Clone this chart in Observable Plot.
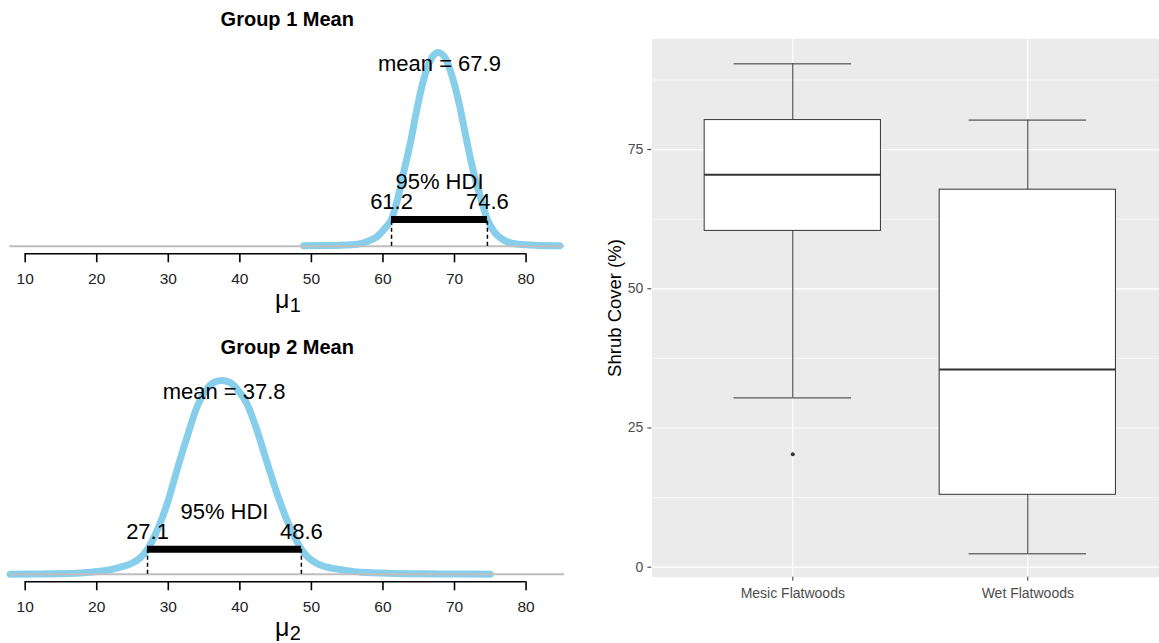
<!DOCTYPE html>
<html>
<head>
<meta charset="utf-8">
<script src="https://cdn.jsdelivr.net/npm/d3@7"></script>
<script src="https://cdn.jsdelivr.net/npm/@observablehq/plot@0.6"></script>
<style>
  html, body { margin: 0; padding: 0; background: #fff; overflow: hidden; }
  #wrap { position: relative; width: 1159px; height: 643px; overflow: hidden; background: #fff; }
  #wrap svg { position: absolute; overflow: visible; max-width: none; }
</style>
</head>
<body>
<div id="wrap"></div>
<script>
// ---- Posterior of the Group 1 mean (relative density, peak = 1) ----
const group1Mu = [48.9, 52.0, 54.1, 56.4, 57.8, 59.2, 60.4, 61.2, 62.0, 62.9, 63.9, 64.8, 65.7, 66.7, 67.7,
                  68.8, 69.7, 70.7, 71.6, 72.5, 73.5, 74.6, 75.6, 77.0, 78.9, 81.7, 84.7];
const group1Density = [0.002, 0.003, 0.005, 0.010, 0.024, 0.050, 0.098, 0.138, 0.236, 0.382, 0.546, 0.718, 0.862, 0.965, 1.000,
                       0.965, 0.872, 0.728, 0.563, 0.408, 0.268, 0.138, 0.072, 0.029, 0.010, 0.004, 0.002];
const group1Mean = 67.9;
const group1Hdi = [61.2, 74.6];

// ---- Posterior of the Group 2 mean (relative density, peak = 1) ----
const group2Mu = [7.9, 11.0, 14.0, 16.0, 18.2, 20.5, 21.9, 23.3, 24.7, 26.0, 27.1, 28.45, 29.85, 31.2, 32.6, 34.0, 35.4,
                  36.5, 37.5, 38.6, 39.6, 41.0, 42.4, 43.8, 45.2, 46.6, 47.6, 48.6, 49.7, 50.8, 52.2, 54.5, 56.9,
                  61.5, 66.0, 70.0, 75.0];
const group2Density = [0.000, 0.001, 0.002, 0.004, 0.008, 0.015, 0.023, 0.036, 0.053, 0.082, 0.129, 0.227, 0.364, 0.536, 0.706, 0.862, 0.957,
                       0.992, 1.000, 0.990, 0.957, 0.880, 0.742, 0.577, 0.416, 0.278, 0.196, 0.129, 0.082, 0.055, 0.036, 0.021, 0.010,
                       0.004, 0.002, 0.001, 0.000];
const group2Mean = 37.8;
const group2Hdi = [27.1, 48.6];

const muTicks = [10, 20, 30, 40, 50, 60, 70, 80];

// ---- Shrub cover by site type (box plot summary) ----
const sites = ["Mesic Flatwoods", "Wet Flatwoods"];
const lowerWhisker = [30.4, 2.4];
const lowerQuartile = [60.4, 13.0];
const medianCover = [70.5, 35.5];
const upperQuartile = [80.3, 67.8];
const upperWhisker = [90.4, 80.3];
const outlierSite = ["Mesic Flatwoods"];
const outlierCover = [20.3];
const coverTicks = [0, 25, 50, 75];
const coverMinorTicks = [12.5, 37.5, 62.5, 87.5];

const wrap = document.getElementById("wrap");
const baseFont = "'Liberation Sans', Arial, sans-serif";

function posteriorPanel(mu, density, mean, hdi, title, subscript, top) {
  const pts = mu.map((m, i) => ({mu: m, density: density[i]}));
  const hdiHeight = density[mu.indexOf(hdi[0])];
  const svg = Plot.plot({
    width: 580,
    height: 328,
    marginLeft: 9.3,
    marginRight: 15.8,
    marginTop: 52,
    marginBottom: 74.7,
    x: {domain: [7.85, 85.4]},
    y: {domain: [0, 1], insetBottom: 7.6, axis: null},
    style: {fontFamily: baseFont, fontSize: "15px", color: "#000", background: "transparent", overflow: "visible"},
    marks: [
      Plot.line(pts, {x: "mu", y: "density", stroke: "#87CEEB", strokeWidth: 7, curve: "monotone-x",
                      strokeLinecap: "round", strokeLinejoin: "round"}),
      Plot.ruleY([0], {stroke: "#BEBEBE", strokeWidth: 2}),
      Plot.ruleX(hdi, {x: d => d, y1: 0, y2: hdiHeight, stroke: "#000", strokeWidth: 1.5, strokeDasharray: "4,3"}),
      Plot.ruleY([hdiHeight], {x1: hdi[0], x2: hdi[1], stroke: "#000", strokeWidth: 7, strokeLinecap: "butt"}),
      Plot.text([mean], {x: d => d, y: 0.905, text: d => `mean = ${d.toFixed(1)}`, lineAnchor: "bottom", fontSize: 22, fill: "#000"}),
      Plot.text([d3.mean(hdi)], {x: d => d, y: hdiHeight, dy: -30, text: () => "95% HDI", lineAnchor: "bottom", fontSize: 22, fill: "#000"}),
      Plot.text(hdi, {x: d => d, y: hdiHeight, dy: -10, text: d => d.toFixed(1), lineAnchor: "bottom", fontSize: 22, fill: "#000"}),
      Plot.axisX({ticks: muTicks, tickSize: 9, tickPadding: 10, strokeWidth: 1.6, stroke: "#000", fill: "#222", fontSize: 15.5, label: null}),
      Plot.ruleY([0], {x1: muTicks[0], x2: muTicks[muTicks.length - 1], dy: 7.6, stroke: "#000", strokeWidth: 1.6}),
      Plot.text([title], {frameAnchor: "top", dy: -26.3, lineAnchor: "bottom", fontWeight: "bold", fontSize: 20, fill: "#000"}),
      Plot.text(["μ"], {frameAnchor: "bottom", dx: -5, dy: 54, lineAnchor: "bottom", fontSize: 25, fill: "#000"}),
      Plot.text([subscript], {frameAnchor: "bottom", dx: 8, dy: 58, lineAnchor: "bottom", fontSize: 20, fill: "#000"})
    ]
  });
  svg.style.left = "0px";
  svg.style.top = top + "px";
  wrap.appendChild(svg);
}

posteriorPanel(group1Mu, group1Density, group1Mean, group1Hdi, "Group 1 Mean", "1", 0);
posteriorPanel(group2Mu, group2Density, group2Mean, group2Hdi, "Group 2 Mean", "2", 328);

// ---- Box plot panel ----
const boxes = sites.map((s, i) => ({
  pos: i + 1, site: s,
  lo: lowerWhisker[i], q1: lowerQuartile[i], med: medianCover[i], q3: upperQuartile[i], hi: upperWhisker[i]
}));
const outliers = outlierSite.map((s, i) => ({pos: sites.indexOf(s) + 1, value: outlierCover[i]}));
const boxHalf = 0.375, capHalf = 0.25;

const box = Plot.plot({
  width: 580,
  height: 643,
  marginLeft: 61.3,
  marginRight: 1.7,
  marginTop: 38.3,
  marginBottom: 66.3,
  x: {domain: [0.4, 2.6]},
  y: {domain: [-1.8, 94.9]},
  style: {fontFamily: baseFont, fontSize: "14px", color: "#000", background: "transparent", overflow: "visible"},
  marks: [
    Plot.frame({fill: "#EBEBEB", stroke: null}),
    Plot.gridY({ticks: coverMinorTicks, stroke: "#fff", strokeOpacity: 1, strokeWidth: 0.6}),
    Plot.gridY({ticks: coverTicks, stroke: "#fff", strokeOpacity: 1, strokeWidth: 1.2}),
    Plot.gridX({ticks: boxes.map(d => d.pos), stroke: "#fff", strokeOpacity: 1, strokeWidth: 1.2}),
    Plot.ruleX(boxes, {x: "pos", y1: "lo", y2: "hi", stroke: "#333", strokeWidth: 1}),
    Plot.ruleY(boxes, {y: "hi", x1: d => d.pos - capHalf, x2: d => d.pos + capHalf, stroke: "#333", strokeWidth: 1}),
    Plot.ruleY(boxes, {y: "lo", x1: d => d.pos - capHalf, x2: d => d.pos + capHalf, stroke: "#333", strokeWidth: 1}),
    Plot.rect(boxes, {x1: d => d.pos - boxHalf, x2: d => d.pos + boxHalf, y1: "q1", y2: "q3", fill: "#fff", stroke: "#333", strokeWidth: 1}),
    Plot.ruleY(boxes, {y: "med", x1: d => d.pos - boxHalf, x2: d => d.pos + boxHalf, stroke: "#333", strokeWidth: 2}),
    Plot.dot(outliers, {x: "pos", y: "value", r: 2, fill: "#333", stroke: null}),
    Plot.axisY({ticks: coverTicks, tickSize: 4, tickPadding: 4.5, stroke: "#333", fill: "#4D4D4D", fontSize: 14, label: null}),
    Plot.axisX({ticks: boxes.map(d => d.pos), tickFormat: p => sites[p - 1], tickSize: 4, tickPadding: 7,
                stroke: "#333", fill: "#4D4D4D", fontSize: 14, label: null}),
    Plot.text(["Shrub Cover (%)"], {frameAnchor: "left", rotate: -90, dx: -36.3, textAnchor: "middle", lineAnchor: "middle",
                                    fontSize: 18.5, fill: "#000"})
  ]
});
box.style.left = "590px";
box.style.top = "0px";
wrap.appendChild(box);
</script>
</body>
</html>
